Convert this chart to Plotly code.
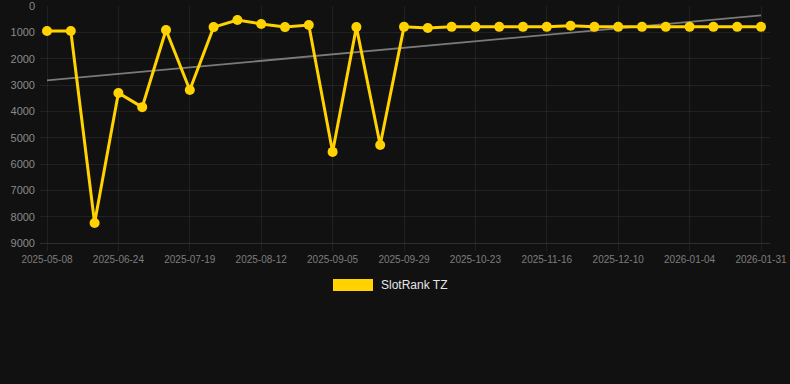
import numpy as np
import plotly.graph_objects as go

dates = ["2025-05-08", "2025-05-24", "2025-06-09", "2025-06-24", "2025-07-02", "2025-07-10",
         "2025-07-19", "2025-07-27", "2025-08-04", "2025-08-12", "2025-08-20", "2025-08-28",
         "2025-09-05", "2025-09-13", "2025-09-21", "2025-09-29", "2025-10-07", "2025-10-15",
         "2025-10-23", "2025-10-31", "2025-11-08", "2025-11-16", "2025-11-24", "2025-12-02",
         "2025-12-10", "2025-12-18", "2025-12-26", "2026-01-04", "2026-01-13", "2026-01-22",
         "2026-01-31"]
ranks = [950, 950, 8240, 3300, 3840, 910, 3190, 800, 530, 680, 800, 720, 5540, 800, 5280,
         790, 835, 790, 790, 790, 790, 790, 750, 790, 790, 790, 790, 790, 790, 790, 790]
tick_labels = dates[::3]
y_ticks = list(range(0, 9001, 1000))

idx = np.arange(len(ranks))
slope, intercept = np.polyfit(idx, ranks, 1)
trend = slope * idx + intercept

GOLD = "#FFD200"

fig = go.Figure()
fig.add_trace(go.Scatter(x=dates, y=trend, mode="lines",
                         line=dict(color="#7a7a7a", width=1.8),
                         hoverinfo="skip", showlegend=False))
fig.add_trace(go.Scatter(x=dates, y=ranks, mode="lines+markers", name="SlotRank TZ",
                         line=dict(color=GOLD, width=3),
                         marker=dict(color=GOLD, size=10),
                         showlegend=False))

grid = "rgba(255,255,255,0.07)"
fig.update_layout(
    width=790, height=384,
    paper_bgcolor="#111111", plot_bgcolor="#111111",
    margin=dict(l=40, r=20, t=6, b=141),
    font=dict(family="Arial, Liberation Sans, sans-serif", color="#8a8a8a"),
    xaxis=dict(type="category", categoryorder="array", categoryarray=dates,
               tickmode="array", tickvals=tick_labels, ticktext=tick_labels,
               range=[-7 / 23.8, 30 + 9 / 23.8], automargin=False,
               showgrid=True, gridcolor=grid, gridwidth=1,
               ticks="outside", ticklen=7, tickcolor=grid,
               showline=True, linecolor="#2e2e2e", linewidth=1,
               tickfont=dict(size=10, color="#7d7d7d"), zeroline=False),
    yaxis=dict(range=[9000, -2], tickmode="array", automargin=False,
               tickvals=y_ticks, ticktext=[str(v) for v in y_ticks],
               showgrid=True, gridcolor=grid, gridwidth=1,
               zeroline=False, ticks="", ticklabelstandoff=4,
               ticklabeloverflow="allow",
               tickfont=dict(size=11, color="#8a8a8a")),
    showlegend=False,
)

# legend swatch + label
fig.add_shape(type="rect", xref="paper", yref="paper",
              x0=(333 - 40) / 730, x1=(373 - 40) / 730,
              y0=(384 - 141 - 291) / 237, y1=(384 - 141 - 279) / 237,
              fillcolor=GOLD, line=dict(width=0))
fig.add_annotation(xref="paper", yref="paper", x=(379 - 40) / 730, y=(384 - 141 - 285) / 237,
                   text="SlotRank TZ", showarrow=False, xanchor="left", yanchor="middle",
                   font=dict(size=12, color="#e6e6e6"))

fig.write_html("out.html")
